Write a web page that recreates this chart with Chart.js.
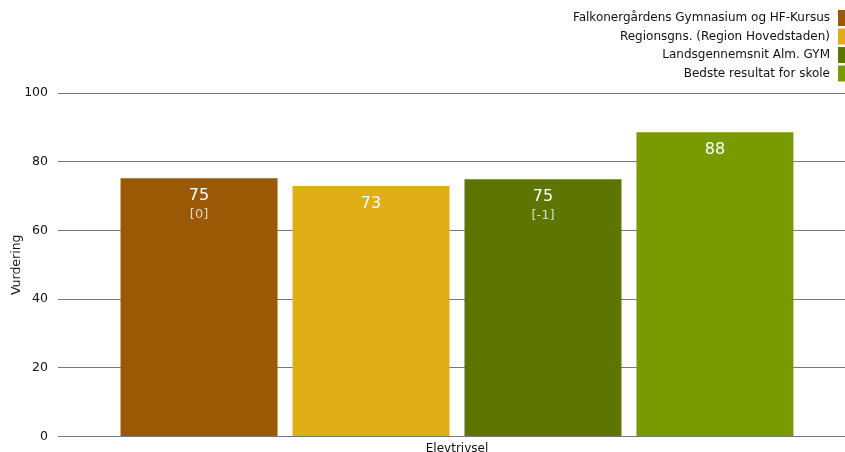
<!DOCTYPE html>
<html>
<head>
<meta charset="utf-8">
<script src="https://cdn.jsdelivr.net/npm/chart.js@4"></script>
<style>
  html, body { margin: 0; padding: 0; overflow: hidden; background: #fff; }
  .container { position: relative; width: 857px; height: 465px; }
</style>
</head>
<body>
<div class="container"><canvas id="elevChart"></canvas></div>
<script>
const categories = ['Elevtrivsel'];
const seriesNames = [
    'Falkonergårdens Gymnasium og HF-Kursus',
    'Regionsgns. (Region Hovedstaden)',
    'Landsgennemsnit Alm. GYM',
    'Bedste resultat for skole'
];
const seriesValues = [75.2, 72.9, 74.9, 88.6];
const shownValues = ['75', '73', '75', '88'];
const diffLabels = ['[0]', '', '[-1]', ''];
const seriesColors = ['#9b5905', '#e0ae17', '#5e7502', '#7a9a01'];
const yTicks = [0, 20, 40, 60, 80, 100];

const FONT = '"DejaVu Sans", Verdana, sans-serif';

// value text inside each bar
const barLabels = {
    id: 'barLabels',
    afterDatasetsDraw(chart) {
        const ctx = chart.ctx;
        ctx.save();
        ctx.textAlign = 'center';
        ctx.textBaseline = 'middle';
        chart.data.datasets.forEach((ds, i) => {
            const bar = chart.getDatasetMeta(i).data[0];
            ctx.fillStyle = '#ffffff';
            ctx.font = '16px ' + FONT;
            ctx.fillText(shownValues[i], bar.x, bar.y + 18);
            if (diffLabels[i]) {
                ctx.fillStyle = 'rgba(255,255,255,0.75)';
                ctx.font = '13px ' + FONT;
                ctx.fillText(diffLabels[i], bar.x, bar.y + 36);
            }
        });
        ctx.restore();
    }
};

// vertical legend in the top right, box right of the text
const sideLegend = {
    id: 'sideLegend',
    afterDraw(chart) {
        const ctx = chart.ctx;
        ctx.save();
        ctx.font = '12px ' + FONT;
        ctx.textAlign = 'right';
        ctx.textBaseline = 'middle';
        chart.data.datasets.forEach((ds, i) => {
            const y = 18 + i * 18.5;
            ctx.fillStyle = ds.backgroundColor;
            ctx.fillRect(838, y - 8, 12, 16);
            ctx.fillStyle = '#111';
            ctx.fillText(ds.label, 830, y);
        });
        ctx.restore();
    }
};

const ctx = document.getElementById('elevChart').getContext('2d');
new Chart(ctx, {
    type: 'bar',
    data: {
        labels: categories,
        datasets: seriesNames.map((name, i) => ({
            label: name,
            data: [seriesValues[i]],
            backgroundColor: seriesColors[i],
            borderWidth: 0,
            categoryPercentage: 0.862,
            barPercentage: 0.913
        }))
    },
    options: {
        responsive: true,
        maintainAspectRatio: false,
        animation: false,
        layout: { padding: { top: 93, right: 1, bottom: 4, left: 0 } },
        plugins: {
            legend: { display: false },
            tooltip: { enabled: false }
        },
        scales: {
            x: {
                grid: { display: false, drawTicks: false },
                border: { display: false },
                ticks: { color: '#111', font: { family: FONT, size: 12 }, padding: 5 }
            },
            y: {
                min: 0,
                max: 100,
                afterBuildTicks: (axis) => { axis.ticks = yTicks.map(v => ({ value: v })); },
                afterFit: (axis) => { axis.width = 58; },
                grid: { color: '#777', lineWidth: 1, drawTicks: false },
                border: { display: false },
                ticks: { color: '#111', font: { family: FONT, size: 12.5 }, padding: 10 },
                title: { display: true, text: 'Vurdering', color: '#111', font: { family: FONT, size: 12.5 }, padding: { top: 9, bottom: 0 } }
            }
        }
    },
    plugins: [barLabels, sideLegend]
});
</script>
</body>
</html>
